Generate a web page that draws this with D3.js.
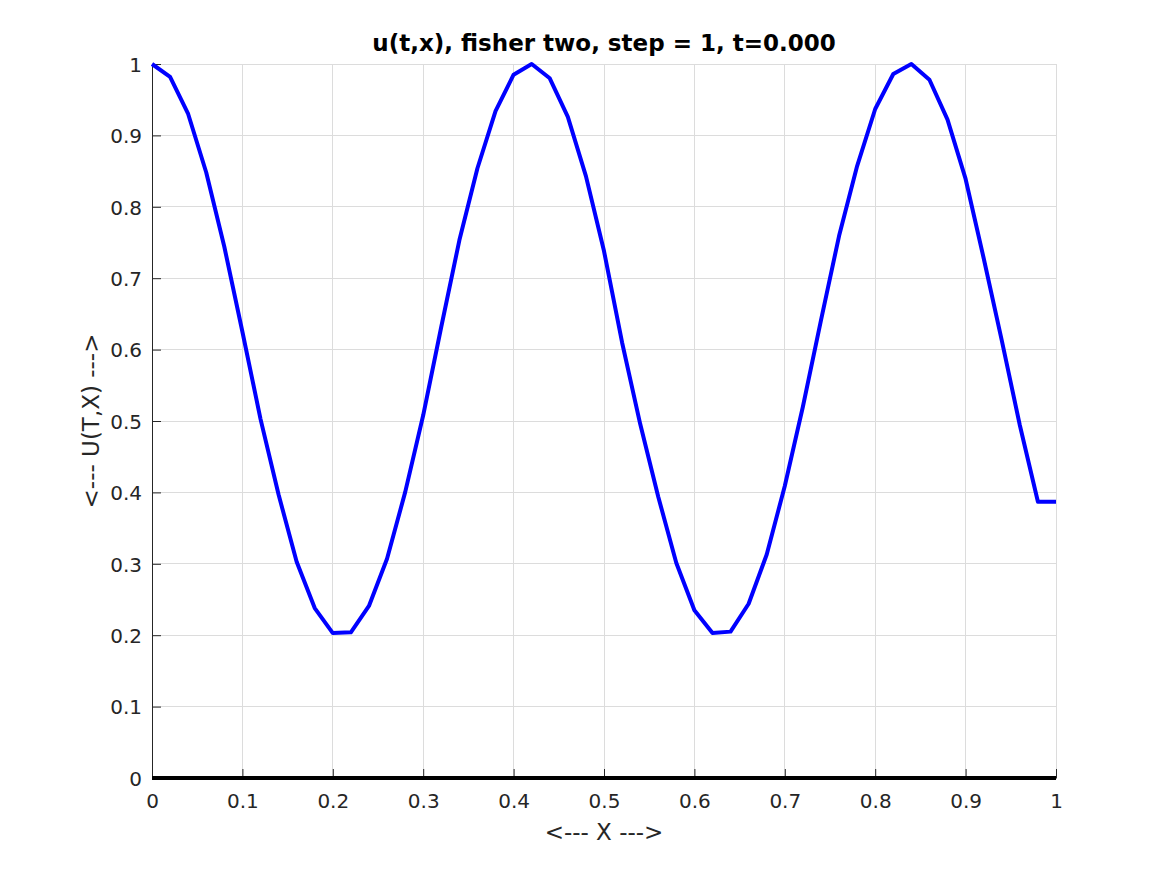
<!DOCTYPE html>
<html><head><meta charset="utf-8">
<script src="https://cdn.jsdelivr.net/npm/d3@7"></script>
<style>body{margin:0;background:#fff}svg{display:block}text{font-family:"DejaVu Sans",sans-serif}</style>
</head><body><svg id="c" width="1167" height="875"></svg>
<script>
const xValues = [0,0.02,0.04,0.06,0.08,0.10,0.12,0.14,0.16,0.18,0.20,0.22,0.24,0.26,0.28,0.30,0.32,0.34,0.36,0.38,0.40,0.42,0.44,0.46,0.48,0.50,0.52,0.54,0.56,0.58,0.60,0.62,0.64,0.66,0.68,0.70,0.72,0.74,0.76,0.78,0.80,0.82,0.84,0.86,0.88,0.90,0.92,0.94,0.96,0.98,1.00];
const uValues = [1.000,0.982,0.930,0.848,0.744,0.625,0.503,0.397,0.303,0.238,0.203,0.204,0.241,0.307,0.400,0.508,0.632,0.753,0.854,0.934,0.985,1.000,0.980,0.926,0.843,0.738,0.610,0.496,0.394,0.301,0.235,0.203,0.205,0.244,0.313,0.409,0.520,0.641,0.759,0.857,0.937,0.986,1.000,0.978,0.922,0.839,0.728,0.613,0.494,0.387,0.387];
const zeroValues = xValues.map(() => 0);
const xTicks = [0,0.1,0.2,0.3,0.4,0.5,0.6,0.7,0.8,0.9,1];
const yTicks = [0,0.1,0.2,0.3,0.4,0.5,0.6,0.7,0.8,0.9,1];
const titleText = "u(t,x), fisher two, step = 1, t=0.000";
const xLabel = "<--- X --->";
const yLabel = "<--- U(T,X) --->";

const svg = d3.select("#c");
const L = 152, R = 1056, T = 64, B = 778;
const x = d3.scaleLinear().domain([0,1]).range([L,R]);
const y = d3.scaleLinear().domain([0,1]).range([B,T]);

// grid
const g = svg.append("g");
g.selectAll(".gx").data(xTicks).join("line")
  .attr("x1", d => x(d)).attr("x2", d => x(d)).attr("y1", T).attr("y2", B)
  .attr("stroke", "#dcdcdc").attr("stroke-width", 1).attr("shape-rendering","crispEdges");
g.selectAll(".gy").data(yTicks).join("line")
  .attr("y1", d => y(d)).attr("y2", d => y(d)).attr("x1", L).attr("x2", R)
  .attr("stroke", "#dcdcdc").attr("stroke-width", 1).attr("shape-rendering","crispEdges");

// axes
const fmt = d => d === 0 ? "0" : d === 1 ? "1" : d3.format(".1f")(d);
const xa = svg.append("g").attr("transform", `translate(0,${B})`)
  .call(d3.axisBottom(x).tickValues(xTicks).tickFormat(fmt).tickSizeInner(-9).tickSizeOuter(0).tickPadding(10));
const ya = svg.append("g").attr("transform", `translate(${L},0)`)
  .call(d3.axisLeft(y).tickValues(yTicks).tickFormat(fmt).tickSizeInner(-9).tickSizeOuter(0).tickPadding(10));
[xa, ya].forEach(a => {
  a.selectAll("path").attr("stroke", "#262626").attr("stroke-width", 1);
  a.selectAll("line").attr("stroke", "#262626");
  a.selectAll("text").attr("fill", "#262626").style("font-size", "20px").style("font-family", '"DejaVu Sans",sans-serif');
});
xa.selectAll("text").attr("y", 30).attr("dy", "0");
ya.selectAll("text").attr("dy", "0.36em");

// lines
const line = d3.line().x((d, i) => x(xValues[i])).y(d => y(d));
svg.append("path").datum(zeroValues).attr("d", line)
  .attr("fill", "none").attr("stroke", "#000").attr("stroke-width", 4);
svg.append("path").datum(uValues).attr("d", line)
  .attr("fill", "none").attr("stroke", "#0000ff").attr("stroke-width", 4).attr("stroke-linejoin","round");

// title & labels
svg.append("text").attr("x", (L+R)/2).attr("y", 51).attr("text-anchor", "middle")
  .style("font-size", "23px").style("font-weight", "bold").attr("fill", "#000").text(titleText);
svg.append("text").attr("x", (L+R)/2).attr("y", 840).attr("text-anchor", "middle")
  .style("font-size", "23px").attr("fill", "#262626").text(xLabel);
svg.append("text").attr("transform", `translate(98.5,${(T+B)/2}) rotate(-90)`).attr("text-anchor", "middle")
  .style("font-size", "23px").attr("fill", "#262626").text(yLabel);
</script></body></html>
